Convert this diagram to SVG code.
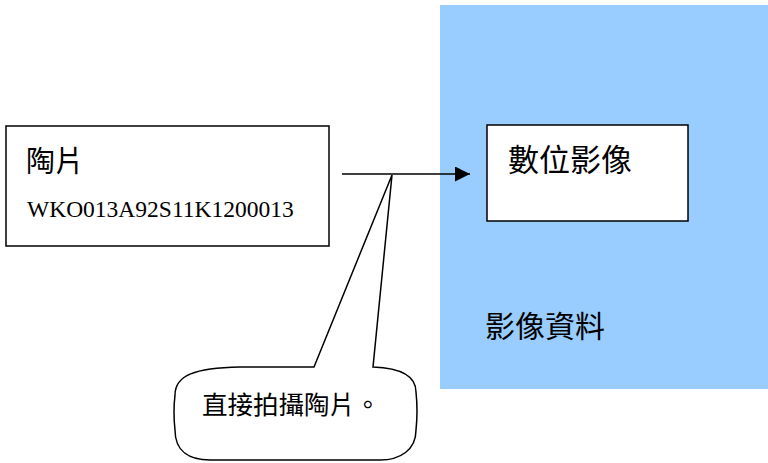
<svg xmlns="http://www.w3.org/2000/svg" width="768" height="463" viewBox="0 0 768 463">
<style>
.box{fill:#fff;stroke:#000;stroke-width:1.5}
.cjk{font-family:"Noto Sans CJK TC","Noto Sans CJK SC",sans-serif;fill:#000}
.code{font-family:"Liberation Serif",serif;fill:#000}
.line{stroke:#000;stroke-width:1.5;fill:none}
</style>
<defs>
<marker id="arr" markerWidth="16" markerHeight="16" refX="15" refY="7.5" orient="auto" markerUnits="userSpaceOnUse">
<path d="M0,0 L15,7.5 L0,15 Z" fill="#000"/>
</marker>
</defs>
<rect width="768" height="463" fill="#fff"/>
<g id="area">
<rect x="440" y="5" width="328" height="384" fill="#99CCFF"/>
<text class="cjk" x="485" y="337" font-size="30">影像資料</text>
</g>
<g id="tile">
<rect class="box" x="6" y="126" width="323" height="120"/>
<text class="cjk" x="26" y="172" font-size="29">陶片</text>
<text class="code" x="27" y="217" font-size="23.5">WKO013A92S11K1200013</text>
</g>
<g id="digital">
<rect class="box" x="487" y="125" width="201" height="96"/>
<text class="cjk" x="508" y="171" font-size="31">數位影像</text>
</g>
<g id="connectors">
<line class="line" x1="342" y1="174" x2="470" y2="174" marker-end="url(#arr)"/>
</g>
<g id="callout">
<path class="box" d="M314,367 L392,175 L373,367 C400,368 416,375 416,392 Q418,411 416,430 C416,450 400,460 380,460 L210,460 C190,460 175,452 175,430 Q173,412 175,395 C175,375 195,368 240,367 Z"/>
<text class="cjk" x="202" y="414" font-size="25.5">直接拍攝陶片。</text>
</g>
</svg>
